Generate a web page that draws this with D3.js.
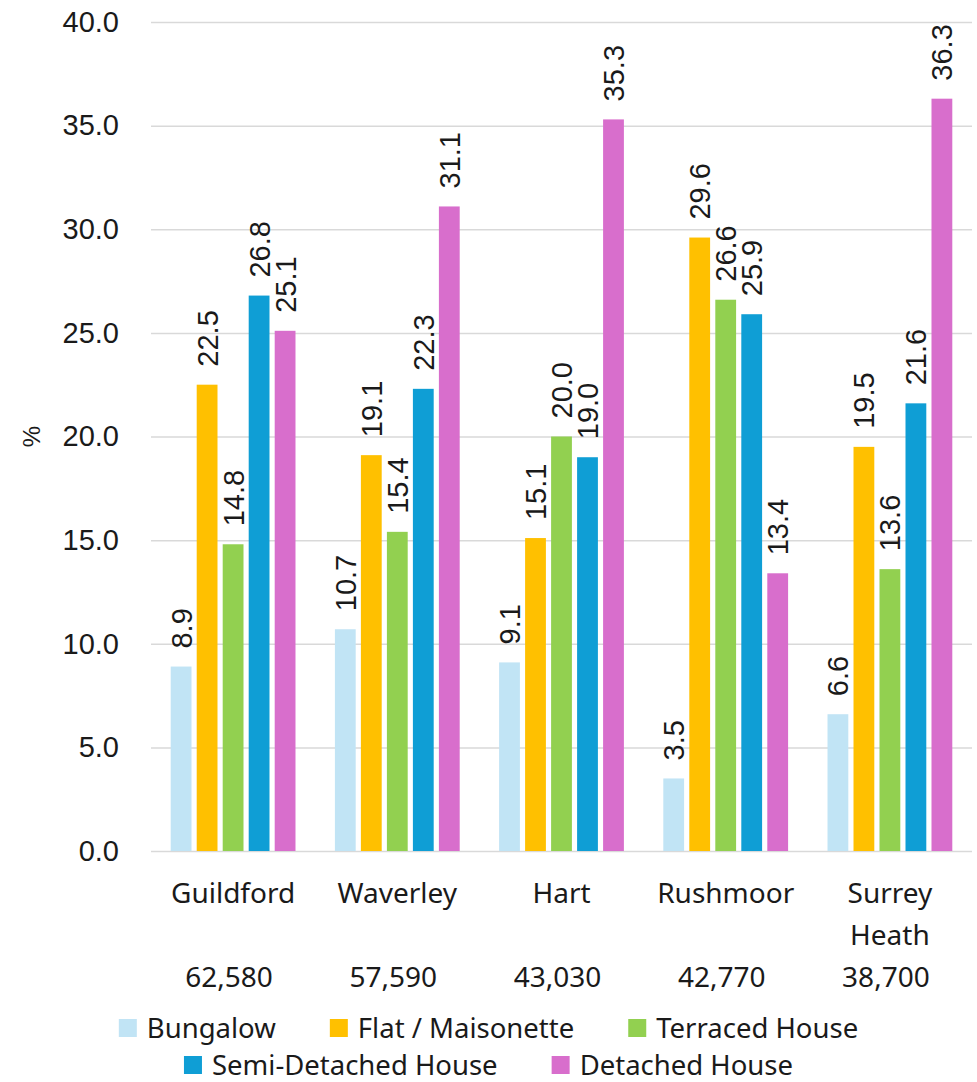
<!DOCTYPE html>
<html>
<head>
<meta charset="utf-8">
<script src="https://cdn.jsdelivr.net/npm/d3@7"></script>
<style>
  body { margin: 0; background: #fff; }
  svg { display: block; }
</style>
</head>
<body>
<div id="chart"></div>
<script>
// districts along the x axis
const districts = ["Guildford", "Waverley", "Hart", "Rushmoor", "Surrey Heath"];
// number of dwellings, shown under each district name
const dwellings = ["62,580", "57,590", "43,030", "42,770", "38,700"];

const seriesNames = ["Bungalow", "Flat / Maisonette", "Terraced House", "Semi-Detached House", "Detached House"];
const seriesColors = ["#C1E4F5", "#FFC000", "#92D050", "#0F9ED5", "#D86ECC"];

// % of dwellings per type, one array per series
const bungalow   = [8.9, 10.7, 9.1, 3.5, 6.6];
const flat       = [22.5, 19.1, 15.1, 29.6, 19.5];
const terraced   = [14.8, 15.4, 20.0, 26.6, 13.6];
const semiDet    = [26.8, 22.3, 19.0, 25.9, 21.6];
const detached   = [25.1, 31.1, 35.3, 13.4, 36.3];
const seriesValues = [bungalow, flat, terraced, semiDet, detached];

const yTicks = [0, 5, 10, 15, 20, 25, 30, 35, 40];

const W = 977, H = 1082;
const margin = { top: 22, right: 5, bottom: 231, left: 151 };
const armFont = "'Liberation Sans', Arial, sans-serif";
const textFont = "'Noto Sans', sans-serif";

const svg = d3.select("#chart").append("svg")
  .attr("width", W)
  .attr("height", H);

const x0 = d3.scaleBand()
  .domain(districts)
  .range([margin.left, W - margin.right]);

const groupW = x0.bandwidth() * 0.76;
const x1 = d3.scaleBand()
  .domain(seriesNames)
  .range([(x0.bandwidth() - groupW) / 2, (x0.bandwidth() + groupW) / 2])
  .paddingInner(0.2);

const y = d3.scaleLinear()
  .domain([0, 40])
  .range([H - margin.bottom, margin.top]);

// gridlines + y labels
const yAxis = svg.append("g")
  .attr("transform", `translate(${margin.left},0)`)
  .call(d3.axisLeft(y).tickValues(yTicks).tickFormat(d3.format(".1f"))
    .tickSize(-(W - margin.left - margin.right)).tickPadding(32));
yAxis.select(".domain").remove();
yAxis.selectAll(".tick line").attr("stroke", "#D9D9D9").attr("stroke-width", 1.5);
yAxis.selectAll(".tick text")
  .attr("font-family", armFont)
  .attr("font-size", 29)
  .attr("fill", "#1a1a1a");

svg.append("text")
  .attr("transform", `translate(40,${y(20)}) rotate(-90)`)
  .attr("text-anchor", "middle")
  .attr("font-family", armFont)
  .attr("font-size", 24)
  .attr("fill", "#1a1a1a")
  .text("%");

// bars
const groups = svg.append("g").selectAll("g")
  .data(districts)
  .join("g")
  .attr("transform", d => `translate(${x0(d)},0)`);

groups.each(function (d, i) {
  const g = d3.select(this);
  const rows = seriesNames.map((s, k) => ({ s, k, v: seriesValues[k][i] }));
  g.selectAll("rect")
    .data(rows)
    .join("rect")
    .attr("x", r => x1(r.s))
    .attr("y", r => y(r.v))
    .attr("width", x1.bandwidth())
    .attr("height", r => y(0) - y(r.v))
    .attr("fill", r => seriesColors[r.k]);
  g.selectAll("text")
    .data(rows)
    .join("text")
    .attr("transform", r => `translate(${x1(r.s) + x1.bandwidth() / 2},${y(r.v) - 18}) rotate(-90)`)
    .attr("dy", "0.36em")
    .attr("font-family", armFont)
    .attr("font-size", 29)
    .attr("fill", "#1a1a1a")
    .text(r => r.v.toFixed(1));
});

// category labels
const catLabels = svg.append("g").selectAll("text")
  .data(districts)
  .join("text")
  .attr("x", d => x0(d) + x0.bandwidth() / 2)
  .attr("y", 903)
  .attr("text-anchor", "middle")
  .attr("font-family", textFont)
  .attr("font-size", 28)
  .attr("fill", "#1a1a1a");
catLabels.each(function (d) {
  const t = d3.select(this);
  d.split(" ").forEach((w, j) => {
    t.append("tspan")
      .attr("x", x0(d) + x0.bandwidth() / 2)
      .attr("dy", j === 0 ? 0 : 42)
      .text(w);
  });
});

// dwelling counts
svg.append("g").selectAll("text")
  .data(districts)
  .join("text")
  .attr("x", d => x0(d) + x0.bandwidth() / 2 - 4)
  .attr("y", 987)
  .attr("text-anchor", "middle")
  .attr("font-family", textFont)
  .attr("font-size", 28)
  .attr("fill", "#1a1a1a")
  .text((d, i) => dwellings[i]);

// legend: two centred rows
const legendRows = [[0, 1, 2], [3, 4]];
const sw = 18, swGap = 10, itemGap = 54;
legendRows.forEach((row, ri) => {
  const ly = 1028 + ri * 37;
  const lg = svg.append("g");
  let cx = 0;
  row.forEach(k => {
    const item = lg.append("g").attr("transform", `translate(${cx},0)`);
    item.append("rect")
      .attr("x", 0).attr("y", ly - sw / 2)
      .attr("width", sw).attr("height", sw)
      .attr("fill", seriesColors[k]);
    const t = item.append("text")
      .attr("x", sw + swGap)
      .attr("y", ly)
      .attr("dy", "0.36em")
      .attr("font-family", textFont)
      .attr("font-size", 27.5)
      .attr("fill", "#1a1a1a")
      .text(seriesNames[k]);
    cx += sw + swGap + t.node().getComputedTextLength() + itemGap;
  });
  const total = cx - itemGap;
  lg.attr("transform", `translate(${(W - total) / 2},0)`);
});
</script>
</body>
</html>
